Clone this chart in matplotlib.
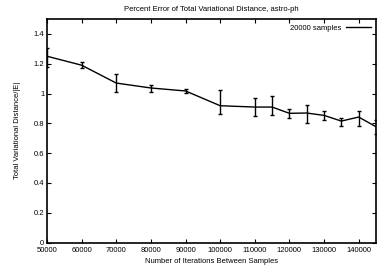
import matplotlib
matplotlib.use("Agg")
import matplotlib.pyplot as plt
import numpy as np
from matplotlib.lines import Line2D

iterations = [50000, 60000, 70000, 80000, 90000, 100000, 110000, 115000,
              120000, 125000, 130000, 135000, 140000, 145000]
error = [1.25, 1.19, 1.07, 1.037, 1.017, 0.918, 0.909, 0.909,
         0.867, 0.869, 0.853, 0.815, 0.842, 0.777]
err_low = [1.18, 1.17, 1.012, 1.012, 1.003, 0.86, 0.846, 0.853,
           0.837, 0.80, 0.82, 0.784, 0.784, 0.73]
err_high = [1.306, 1.214, 1.13, 1.057, 1.03, 1.026, 0.972, 0.986,
            0.896, 0.925, 0.88, 0.837, 0.885, 0.82]
xticks = [50000, 60000, 70000, 80000, 90000, 100000, 110000, 120000, 130000, 140000]
yticks = [0, 0.2, 0.4, 0.6, 0.8, 1, 1.2, 1.4]
ytick_labels = ["0", "0.2", "0.4", "0.6", "0.8", "1", "1.2", "1.4"]

plt.rcParams['font.family'] = ['Liberation Sans', 'DejaVu Sans']
fs = 5.5

fig = plt.figure(figsize=(3.82, 2.72), dpi=100)
ax = fig.add_axes([47/382, 1 - 242.5/272, (376-47)/382, (242.5-19)/272])

yerr = [np.array(error) - np.array(err_low), np.array(err_high) - np.array(error)]
ax.errorbar(iterations, error, yerr=yerr, color='black', lw=1.0,
            elinewidth=1.0, capsize=1.5, capthick=1.0, label='20000 samples')

ax.set_xlim(50000, 145000)
ax.set_ylim(0, 1.5)
ax.set_xticks(xticks)
ax.set_xticklabels([str(v) for v in xticks], fontsize=fs)
ax.set_yticks(yticks)
ax.set_yticklabels(ytick_labels, fontsize=fs)
ax.tick_params(direction='in', length=3, width=0.8, top=True, right=True, pad=2, colors='black')
ax.tick_params(axis='x', pad=3)
for s in ax.spines.values():
    s.set_linewidth(1.2)

ax.set_title("Percent Error of Total Variational Distance, astro-ph", fontsize=fs, pad=6)
ax.set_xlabel("Number of Iterations Between Samples", fontsize=fs, labelpad=3)
ax.set_ylabel("Total Variational Distance/|E|", fontsize=fs, labelpad=9)

h = [Line2D([0], [0], color='black', lw=1.0)]
leg = ax.legend(h, ['20000 samples'], loc='upper right', fontsize=fs, frameon=False,
                markerfirst=False, handlelength=3.2, borderaxespad=0.3, handletextpad=0.6)

fig.savefig("out.png", dpi=100)
